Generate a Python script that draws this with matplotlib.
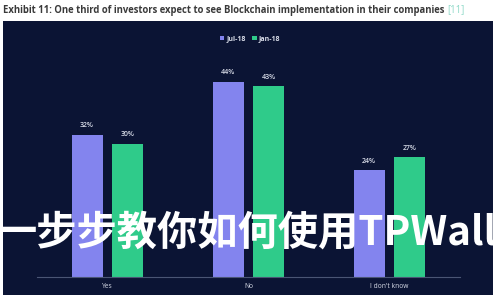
import matplotlib
matplotlib.use("Agg")
import matplotlib.pyplot as plt
from matplotlib.patches import Rectangle
import numpy as np

categories = ["Yes", "No", "I don't know"]
series_names = ["Jul-18", "Jan-18"]
jul18 = [32, 44, 24]
jan18 = [30, 43, 27]

title_main = "Exhibit 11: One third of investors expect to see Blockchain implementation in their companies "
title_ref = "[11]"
watermark = "一步步教你如何使用TPWallet"

BG = "#0b1434"
PURPLE = "#8384ee"
GREEN = "#2fcb8a"
LIGHT = "#d8dce8"

fig = plt.figure(figsize=(5, 3), dpi=100)
fig.patch.set_facecolor("white")

W, H = 500, 300
def fx(px): return px / W
def fy(py): return 1 - py / H

# dark panel
fig.patches.append(Rectangle((fx(3), fy(295)), fx(493) - fx(3), fy(21) - fy(295),
                             transform=fig.transFigure, facecolor=BG, edgecolor="none", zorder=-5))

# title
t1 = fig.text(fx(3), fy(10), title_main, fontsize=6.85, fontweight="bold", color="#3a3a3a",
              family="Open Sans", va="center", ha="left")
fig.canvas.draw()
bb = t1.get_window_extent()
fig.text(bb.x1 / fig.bbox.width, fy(10), title_ref, fontsize=6.85, color="#8fd9c8",
         family="Open Sans", va="center", ha="left")

ax = fig.add_axes([fx(37), fy(277), fx(460) - fx(37), fy(55) - fy(277)])
ax.set_facecolor("none")
ax.set_zorder(1)
x = np.arange(len(categories))
w = 0.22
off = 0.145
b1 = ax.bar(x - off, jul18, w, color=PURPLE, label=series_names[0], zorder=2)
b2 = ax.bar(x + off, jan18, w, color=GREEN, label=series_names[1], zorder=2)
for bars, vals in ((b1, jul18), (b2, jan18)):
    for r, v in zip(bars, vals):
        ax.annotate(f"{v}%", (r.get_x() + r.get_width() / 2, v), xytext=(0, 4),
                    textcoords="offset points", ha="center", va="bottom",
                    fontsize=5, color=LIGHT, family="Open Sans", fontweight="semibold")
ax.set_xlim(-0.5, 2.5)
ax.set_ylim(0, 50)
ax.set_xticks(x)
ax.set_xticklabels(categories, fontsize=4.8, color=LIGHT, family="Open Sans")
ax.tick_params(axis="x", length=0, pad=4)
ax.set_yticks([])
for s in ("top", "right", "left"):
    ax.spines[s].set_visible(False)
ax.spines["bottom"].set_color("#4a5574")
ax.spines["bottom"].set_linewidth(0.8)

leg = fig.legend(handles=[b1, b2], labels=series_names, loc="center", bbox_to_anchor=(fx(250), fy(39)),
                 ncol=2, frameon=False, handlelength=0.6, handleheight=0.6,
                 handletextpad=0.3, columnspacing=1.0, prop={"family": "Open Sans", "weight": "bold", "size": 5})
for t in leg.get_texts():
    t.set_color(LIGHT)

fig.text(fx(-4), fy(233), watermark, fontsize=29, fontweight="bold", color="white",
         family=["Noto Sans CJK SC", "DejaVu Sans"], va="center", ha="left", zorder=10)

fig.savefig("out.png", dpi=100, facecolor=fig.get_facecolor())
